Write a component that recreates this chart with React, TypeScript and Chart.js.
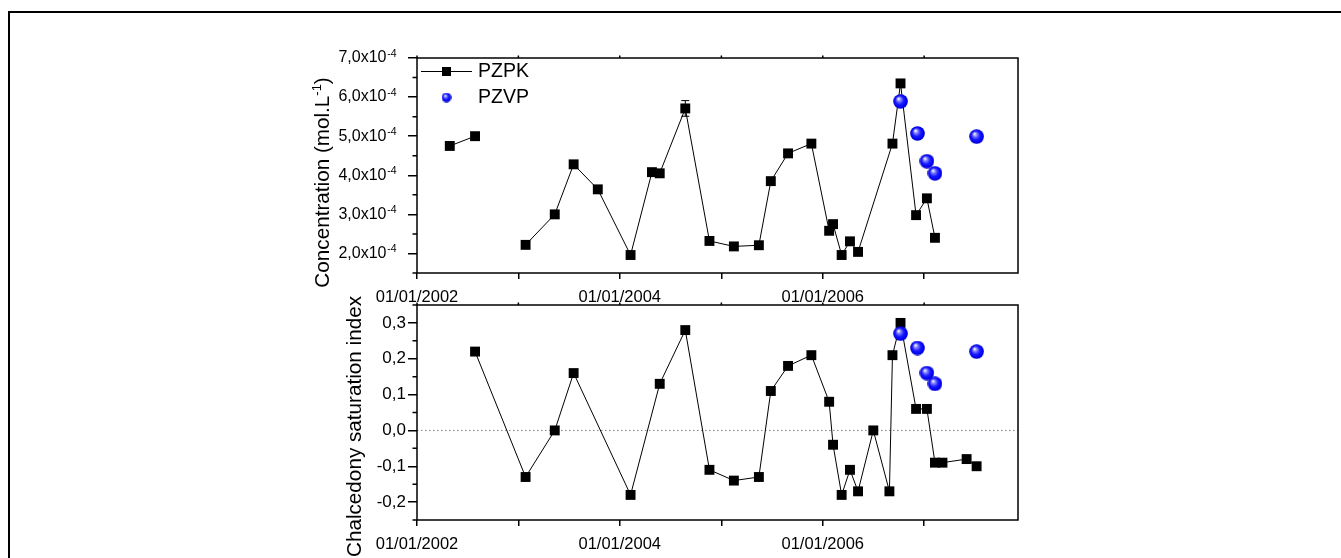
import React, { useEffect, useRef } from 'react';
import { Chart, registerables } from 'chart.js';

Chart.register(...registerables);

const FONT = '"Liberation Sans", Arial, Helvetica, sans-serif';

// ---------------- data ----------------
// PZPK concentration (mol/L); null = missing sample (line break)
const pzpkConcDates = [
  '2002-04-29', '2002-07-29', '2002-10-15', '2003-01-27', '2003-05-12', '2003-07-19', '2003-10-14',
  '2004-02-09', '2004-04-26', '2004-05-24', '2004-08-24', '2004-11-19', '2005-02-15', '2005-05-16',
  '2005-06-28', '2005-08-29', '2005-11-21', '2006-01-24', '2006-02-07', '2006-03-10', '2006-04-09',
  '2006-05-08', '2006-09-09', '2006-10-08', '2006-12-03', '2007-01-11', '2007-02-09',
];
const pzpkConc = [
  4.75e-4, 5.0e-4, null, 2.22e-4, 3.0e-4, 4.28e-4, 3.64e-4,
  1.96e-4, 4.08e-4, 4.05e-4, 5.71e-4, 2.32e-4, 2.18e-4, 2.21e-4,
  3.85e-4, 4.56e-4, 4.81e-4, 2.58e-4, 2.75e-4, 1.96e-4, 2.31e-4,
  2.04e-4, 4.81e-4, 6.35e-4, 2.98e-4, 3.41e-4, 2.4e-4,
];
const pzpkConcErr = [
  0, 0, 0, 0, 0, 0, 0,
  0, 0, 0, 0.2e-4, 0, 0, 0,
  0, 0, 0, 0, 0, 0, 0,
  0, 0, 0, 0, 0, 0,
];

// PZPK chalcedony saturation index
const pzpkSiDates = [
  '2002-07-29', '2003-01-27', '2003-05-12', '2003-07-19', '2004-02-09', '2004-05-24', '2004-08-24',
  '2004-11-19', '2005-02-15', '2005-05-16', '2005-06-28', '2005-08-29', '2005-11-21', '2006-01-24',
  '2006-02-07', '2006-03-10', '2006-04-09', '2006-05-08', '2006-07-02', '2006-08-29', '2006-09-09',
  '2006-10-08', '2006-12-03', '2007-01-11', '2007-02-09', '2007-03-08', '2007-06-03', '2007-07-09',
];
const pzpkSi = [
  0.22, -0.13, 0.0, 0.16, -0.18, 0.13, 0.28,
  -0.11, -0.14, -0.13, 0.11, 0.18, 0.21, 0.08,
  -0.04, -0.18, -0.11, -0.17, 0.0, -0.17, 0.21,
  0.3, 0.06, 0.06, -0.09, -0.09, -0.08, -0.1,
];

// PZVP
const pzvpDates = ['2006-10-08', '2006-12-08', '2007-01-11', '2007-02-09', '2007-07-09'];
const pzvpConc = [5.89e-4, 5.07e-4, 4.36e-4, 4.05e-4, 4.99e-4];
const pzvpSi = [0.27, 0.23, 0.16, 0.13, 0.22];

// axes
const xStart = '2002-01-01';
const xEnd = '2007-12-05';
const yearTicks = [2002, 2003, 2004, 2005, 2006, 2007];
const yearLabelled = [2002, 2004, 2006];
const concRange = [1.5e-4, 7.0e-4];
const concTicks = [2e-4, 3e-4, 4e-4, 5e-4, 6e-4, 7e-4];
const concMinorTicks = [1.5e-4, 2.5e-4, 3.5e-4, 4.5e-4, 5.5e-4, 6.5e-4];
const siRange = [-0.25, 0.35];
const siTicks = [-0.2, -0.1, 0.0, 0.1, 0.2, 0.3];
const siMinorTicks = [-0.25, -0.15, -0.05, 0.05, 0.15, 0.25, 0.35];

// ---------------- helpers ----------------
const t = (s: string) => Date.parse(s + 'T00:00:00Z');

function makeSphere(d: number) {
  const c = document.createElement('canvas');
  c.width = d;
  c.height = d;
  const g = c.getContext('2d')!;
  const r = d / 2;
  const grad = g.createRadialGradient(r * 0.72, r * 0.62, r * 0.04, r, r, r);
  grad.addColorStop(0, '#ffffff');
  grad.addColorStop(0.22, '#8a8aff');
  grad.addColorStop(0.55, '#1a1aff');
  grad.addColorStop(0.85, '#0000f0');
  grad.addColorStop(1, '#0000a8');
  g.fillStyle = grad;
  g.beginPath();
  g.arc(r, r, r - 0.2, 0, Math.PI * 2);
  g.fill();
  return c;
}

const commaFmt = (v: number, d: number) => v.toFixed(d).replace('.', ',');

const TOP_LABEL_PAD = 21.5;

function xScaleOptions(height: number) {
  return {
    type: 'linear' as const,
    min: t(xStart),
    max: t(xEnd),
    afterBuildTicks: (s: any) => {
      s.ticks = yearTicks.map((y) => ({ value: Date.UTC(y, 0, 1) }));
    },
    afterFit: (s: any) => {
      s.height = height;
    },
    ticks: {
      autoSkip: false,
      maxRotation: 0,
      minRotation: 0,
      padding: 9,
      color: '#000',
      font: { family: FONT, size: 16.5 },
      callback: (v: any) => {
        const y = new Date(Number(v)).getUTCFullYear();
        return yearLabelled.includes(y) ? `01/01/${y}` : '';
      },
    },
    grid: { drawOnChartArea: false, drawTicks: true, tickLength: 6, color: '#000', lineWidth: 1.5 },
    border: { display: false },
  };
}

function drawRotated(ctx: CanvasRenderingContext2D, cx: number, cy: number, parts: { text: string; sup?: boolean }[], size: number) {
  ctx.save();
  ctx.translate(cx, cy);
  ctx.rotate(-Math.PI / 2);
  ctx.fillStyle = '#000';
  const mainFont = `${size}px ${FONT}`;
  const supFont = `${size * 0.62}px ${FONT}`;
  let total = 0;
  const widths = parts.map((p) => {
    ctx.font = p.sup ? supFont : mainFont;
    const w = ctx.measureText(p.text).width;
    total += w;
    return w;
  });
  let x = -total / 2;
  parts.forEach((p, i) => {
    ctx.font = p.sup ? supFont : mainFont;
    ctx.textAlign = 'left';
    if (p.sup) {
      ctx.textBaseline = 'alphabetic';
      ctx.fillText(p.text, x, -size * 0.12);
    } else {
      ctx.textBaseline = 'middle';
      ctx.fillText(p.text, x, 0);
    }
    x += widths[i];
  });
  ctx.restore();
}

function framePlugin(minor: number[], opts: { zeroLine?: boolean; err?: boolean; sup?: string; title: (ctx: CanvasRenderingContext2D, a: any) => void; legend?: { sphere: HTMLCanvasElement } }) {
  return {
    id: 'frameTicks',
    beforeDatasetsDraw(chart: any) {
      const { ctx, chartArea: a, scales } = chart;
      ctx.save();
      if (opts.zeroLine) {
        const y0 = scales.y.getPixelForValue(0);
        ctx.strokeStyle = '#808080';
        ctx.lineWidth = 1;
        ctx.setLineDash([1.5, 2.5]);
        ctx.beginPath();
        ctx.moveTo(a.left, y0);
        ctx.lineTo(a.right, y0);
        ctx.stroke();
        ctx.setLineDash([]);
      }
      if (opts.err) {
        ctx.strokeStyle = '#000';
        ctx.lineWidth = 1;
        pzpkConcDates.forEach((d, i) => {
          const e = pzpkConcErr[i];
          const v = pzpkConc[i];
          if (!e || v == null) return;
          const x = scales.x.getPixelForValue(t(d));
          const y1 = scales.y.getPixelForValue(v + e);
          const y2 = scales.y.getPixelForValue(v - e);
          ctx.beginPath();
          ctx.moveTo(x, y1);
          ctx.lineTo(x, y2);
          ctx.moveTo(x - 4, y1);
          ctx.lineTo(x + 4, y1);
          ctx.moveTo(x - 4, y2);
          ctx.lineTo(x + 4, y2);
          ctx.stroke();
        });
      }
      ctx.restore();
    },
    afterDatasetsDraw(chart: any) {
      const { ctx, chartArea: a, scales } = chart;
      ctx.save();
      ctx.strokeStyle = '#000';
      ctx.lineWidth = 1.5;
      ctx.strokeRect(a.left, a.top, a.right - a.left, a.bottom - a.top);
      // minor y ticks
      ctx.beginPath();
      minor.forEach((v) => {
        const y = scales.y.getPixelForValue(v);
        ctx.moveTo(a.left - 4.5, y);
        ctx.lineTo(a.left, y);
      });
      // small top ticks
      yearTicks.forEach((yr) => {
        const x = scales.x.getPixelForValue(Date.UTC(yr, 0, 1));
        ctx.moveTo(x, a.top - 2.5);
        ctx.lineTo(x, a.top);
      });
      ctx.stroke();
      // superscripts on tick labels
      if (opts.sup) {
        ctx.fillStyle = '#000';
        ctx.font = `10.5px ${FONT}`;
        ctx.textAlign = 'left';
        ctx.textBaseline = 'alphabetic';
        const xs = a.left - 9 - TOP_LABEL_PAD + 0.8;
        scales.y.ticks.forEach((tk: any) => {
          const y = scales.y.getPixelForValue(tk.value);
          ctx.fillText(opts.sup!, xs, y - 1.5);
        });
      }
      opts.title(ctx, a);
      if (opts.legend) {
        const ly1 = a.top + 13.5;
        const ly2 = a.top + 39.5;
        const sx = a.left + 29.5;
        ctx.lineWidth = 1;
        ctx.beginPath();
        ctx.moveTo(a.left + 4, ly1);
        ctx.lineTo(a.left + 55, ly1);
        ctx.stroke();
        ctx.fillStyle = '#000';
        ctx.fillRect(sx - 4.5, ly1 - 4.5, 9, 9);
        const s = opts.legend.sphere;
        ctx.drawImage(s, sx - s.width / 2, ly2 - s.height / 2);
        ctx.font = `19.5px ${FONT}`;
        ctx.textAlign = 'left';
        ctx.textBaseline = 'middle';
        ctx.fillText('PZPK', a.left + 61, ly1 + 0.5);
        ctx.fillText('PZVP', a.left + 61, ly2 + 0.5);
      }
      ctx.restore();
    },
  };
}

export default function App() {
  const topRef = useRef<HTMLCanvasElement>(null);
  const botRef = useRef<HTMLCanvasElement>(null);

  useEffect(() => {
    const sphere = makeSphere(15);
    const sphereSmall = makeSphere(10);
    const W = 1341;
    const H = 558;
    const plotLeft = 417;
    const plotRight = 1018;
    const xAxisH = 40;

    const topChart = new Chart(topRef.current!, {
      type: 'line',
      data: {
        datasets: [
          {
            label: 'PZPK',
            data: pzpkConcDates.map((d, i) => ({ x: t(d), y: pzpkConc[i] })),
            borderColor: '#000',
            borderWidth: 1,
            pointStyle: 'rect',
            pointRadius: 7,
            pointBorderWidth: 0,
            pointBackgroundColor: '#000',
            spanGaps: false,
            order: 2,
          },
          {
            label: 'PZVP',
            data: pzvpDates.map((d, i) => ({ x: t(d), y: pzvpConc[i] })),
            showLine: false,
            pointStyle: sphere as any,
            pointRadius: 7.5,
            order: 1,
          },
        ],
      } as any,
      options: {
        responsive: false,
        animation: false,
        events: [],
        layout: { padding: { left: 0, top: 58, right: W - plotRight, bottom: H - 273 - xAxisH } },
        plugins: { legend: { display: false }, tooltip: { enabled: false }, title: { display: false } },
        scales: {
          x: xScaleOptions(xAxisH),
          y: {
            type: 'linear',
            min: concRange[0],
            max: concRange[1],
            afterBuildTicks: (s: any) => {
              s.ticks = concTicks.map((v) => ({ value: v }));
            },
            afterFit: (s: any) => {
              s.width = plotLeft;
            },
            ticks: {
              autoSkip: false,
              padding: TOP_LABEL_PAD,
              color: '#000',
              font: { family: FONT, size: 16 },
              callback: (v: any) => commaFmt(Number(v) / 1e-4, 1) + 'x10',
            },
            grid: { drawOnChartArea: false, drawTicks: true, tickLength: 9, color: '#000', lineWidth: 1.5 },
            border: { display: false },
          },
        },
      } as any,
      plugins: [
        framePlugin(concMinorTicks, {
          err: true,
          sup: '-4',
          legend: { sphere: sphereSmall },
          title: (ctx, a) =>
            drawRotated(
              ctx,
              a.left - 94,
              a.top + 124.5,
              [{ text: 'Concentration (mol.L' }, { text: '-1', sup: true }, { text: ')' }],
              20.7
            ),
        }) as any,
      ],
    });

    const botChart = new Chart(botRef.current!, {
      type: 'line',
      data: {
        datasets: [
          {
            label: 'PZPK',
            data: pzpkSiDates.map((d, i) => ({ x: t(d), y: pzpkSi[i] })),
            borderColor: '#000',
            borderWidth: 1,
            pointStyle: 'rect',
            pointRadius: 7,
            pointBorderWidth: 0,
            pointBackgroundColor: '#000',
            order: 2,
          },
          {
            label: 'PZVP',
            data: pzvpDates.map((d, i) => ({ x: t(d), y: pzvpSi[i] })),
            showLine: false,
            pointStyle: sphere as any,
            pointRadius: 7.5,
            order: 1,
          },
        ],
      } as any,
      options: {
        responsive: false,
        animation: false,
        events: [],
        layout: { padding: { left: 0, top: 305, right: W - plotRight, bottom: H - 520 - 30 } },
        plugins: { legend: { display: false }, tooltip: { enabled: false }, title: { display: false } },
        scales: {
          x: xScaleOptions(30),
          y: {
            type: 'linear',
            min: siRange[0],
            max: siRange[1],
            afterBuildTicks: (s: any) => {
              s.ticks = siTicks.map((v) => ({ value: v }));
            },
            afterFit: (s: any) => {
              s.width = plotLeft;
            },
            ticks: {
              autoSkip: false,
              padding: 2,
              color: '#000',
              font: { family: FONT, size: 17 },
              callback: (v: any) => commaFmt(Number(v), 1),
            },
            grid: { drawOnChartArea: false, drawTicks: true, tickLength: 9, color: '#000', lineWidth: 1.5 },
            border: { display: false },
          },
        },
      } as any,
      plugins: [
        framePlugin(siMinorTicks, {
          zeroLine: true,
          title: (ctx, a) => drawRotated(ctx, a.left - 62, a.top + 121.5, [{ text: 'Chalcedony saturation index' }], 20.7),
        }) as any,
      ],
    });

    return () => {
      topChart.destroy();
      botChart.destroy();
    };
  }, []);

  return (
    <div style={{ position: 'absolute', left: 0, top: 0, width: 1341, height: 558, overflow: 'hidden', background: '#fff' }}>
      <div
        style={{
          position: 'absolute',
          left: 8,
          top: 11,
          right: 0,
          bottom: 0,
          borderTop: '2px solid #000',
          borderLeft: '2px solid #000',
        }}
      />
      <canvas ref={topRef} width={1341} height={558} style={{ position: 'absolute', left: 0, top: 0 }} />
      <canvas ref={botRef} width={1341} height={558} style={{ position: 'absolute', left: 0, top: 0 }} />
    </div>
  );
}
